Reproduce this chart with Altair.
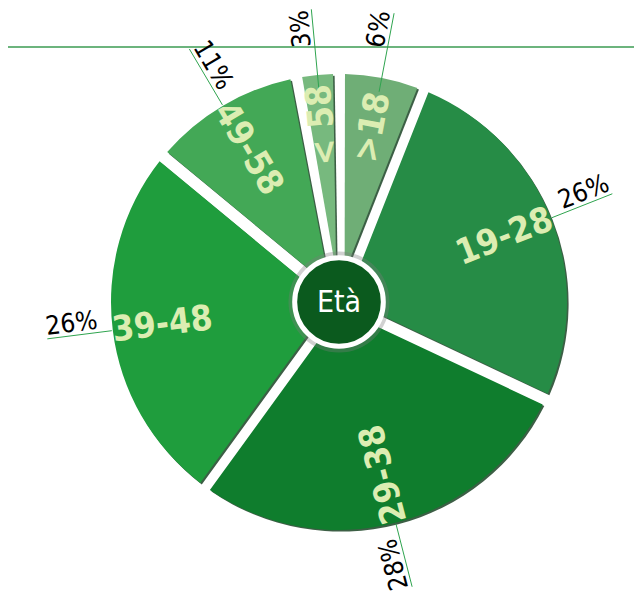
import altair as alt
import pandas as pd

# ---- data ----
labels = [">18", "19-28", "29-38", "39-48", "49-58", "< 58"]
percents = [6, 26, 28, 26, 11, 3]
pct_labels = ["6%", "26%", "28%", "26%", "11%", "3%"]
colors = ["#6fae76", "#268c46", "#0f7d2d", "#1f9d3d", "#43a856", "#77b97e"]
center_label = ["Età"]

# ---- layout constants ----
W, H = 626, 598
CX, CY = 331, 294
R_OUT, R_IN = 228, 30
R_LABEL = 178
R_LEAD_OUT = 294
FONT = "'DejaVu Sans Condensed', 'Liberation Sans Narrow', sans-serif"
LABEL_COLOR = "#dcedb2"
LEAD_COLOR = "#2fa44f"

df = pd.DataFrame({
    "i": list(range(len(labels))),
    "label": labels,
    "pct": percents,
    "pct_label": pct_labels,
})
cdf = pd.DataFrame({"t": center_label})

color_scale = alt.Scale(domain=labels, range=colors)

arc_base = alt.Chart(df).encode(
    theta=alt.Theta("pct:Q", stack=True),
    order=alt.Order("i:Q", sort="ascending"),
)
shadow = arc_base.mark_arc(
    outerRadius=R_OUT, innerRadius=R_IN, padAngle=0.052,
    color="#0b3716", opacity=0.8,
).encode(x=alt.value(CX + 1.6), y=alt.value(CY + 1.6))

slices = arc_base.mark_arc(
    outerRadius=R_OUT, innerRadius=R_IN, padAngle=0.052,
).encode(
    color=alt.Color("label:N", scale=color_scale, legend=None),
    x=alt.value(CX), y=alt.value(CY),
)

# geometry derived from the data (slice mid angles)
geo = alt.Chart(df).transform_window(
    cum="sum(pct)", sort=[alt.SortField("i", order="ascending")], frame=[None, 0]
).transform_joinaggregate(
    total="sum(pct)"
).transform_calculate(
    mid="(datum.cum - datum.pct / 2) / datum.total * 2 * PI"
).transform_calculate(
    deg="datum.mid * 180 / PI",
    s="sin(datum.mid)",
    c="cos(datum.mid)",
).transform_calculate(
    rot="(datum.deg < 150 ? datum.deg - 90 : (datum.deg < 340 ? datum.deg - 270 : datum.deg - 450)) + 360",
    outward="datum.deg < 150 || datum.deg >= 340",
    lx=f"{CX} + {R_LABEL} * datum.s",
    ly=f"{CY} - {R_LABEL} * datum.c",
    rin=f"datum.pct < 10 ? 214 : {R_OUT + 1}",
).transform_calculate(
    x1=f"{CX} + datum.rin * datum.s",
    y1=f"{CY} - datum.rin * datum.c",
    x2=f"{CX} + {R_LEAD_OUT} * datum.s",
    y2=f"{CY} - {R_LEAD_OUT} * datum.c",
)

leaders = geo.mark_rule(color=LEAD_COLOR, strokeWidth=1).encode(
    x=alt.X("x1:Q", scale=None), y=alt.Y("y1:Q", scale=None),
    x2="x2:Q", y2="y2:Q",
)

slice_text = geo.mark_text(
    font=FONT, fontWeight="bold", fontSize=35, color=LABEL_COLOR,
    align="center", baseline="middle",
).encode(
    x=alt.X("lx:Q", scale=None), y=alt.Y("ly:Q", scale=None),
    angle=alt.Angle("rot:Q", scale=None),
    text="label:N",
)

pct_out = geo.transform_filter("datum.outward").mark_text(
    font=FONT, fontSize=26, color="#000000", align="right",
    baseline="alphabetic", dy=-4,
).encode(
    x=alt.X("x2:Q", scale=None), y=alt.Y("y2:Q", scale=None),
    angle=alt.Angle("rot:Q", scale=None),
    text="pct_label:N",
)
pct_in = geo.transform_filter("!datum.outward").mark_text(
    font=FONT, fontSize=26, color="#000000", align="left",
    baseline="alphabetic", dy=-4,
).encode(
    x=alt.X("x2:Q", scale=None), y=alt.Y("y2:Q", scale=None),
    angle=alt.Angle("rot:Q", scale=None),
    text="pct_label:N",
)

top_line = alt.Chart(cdf).mark_rule(color="#3b9b52", strokeWidth=1.5).encode(
    x=alt.value(0), x2=alt.value(W), y=alt.value(39)
)
halo = alt.Chart(cdf).mark_circle(
    size=3.1416 * 57 ** 2, color="#7a7a7a", opacity=0.35
).encode(x=alt.value(CX), y=alt.value(CY))
disc = alt.Chart(cdf).mark_circle(
    size=3.1416 * 50 ** 2, color="#0b5a1e", opacity=1,
    stroke="white", strokeWidth=5,
).encode(x=alt.value(CX), y=alt.value(CY))
center_text = alt.Chart(cdf).mark_text(
    font=FONT, fontSize=30, color="white", align="center", baseline="middle", dy=1
).encode(x=alt.value(CX), y=alt.value(CY), text="t:N")

chart = alt.layer(
    top_line, shadow, slices, leaders, slice_text, halo, disc, center_text, pct_out, pct_in
).properties(
    width=W, height=H, padding=0, autosize="none"
).configure_view(stroke=None)

chart.save("out.html", embed_options={"renderer": "svg", "actions": False})
